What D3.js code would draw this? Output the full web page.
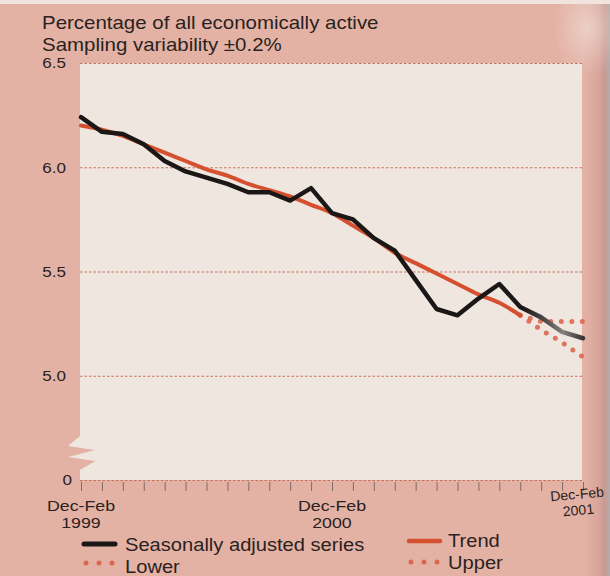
<!DOCTYPE html>
<html>
<head>
<meta charset="utf-8">
<script src="https://cdn.jsdelivr.net/npm/d3@7"></script>
<style>
  html, body { margin: 0; padding: 0; background: #e4b2a5; }
  svg { display: block; }
  text { font-family: "Liberation Sans", Arial, Helvetica, sans-serif; fill: #2a2220; }
</style>
</head>
<body>
<svg id="chart" width="610" height="576"></svg>
<script>
// Rolling three-month periods, Dec-Feb 1999 to Dec-Feb 2001
const periods = [
  "Dec-Feb 1999", "Jan-Mar 1999", "Feb-Apr 1999", "Mar-May 1999", "Apr-Jun 1999",
  "May-Jul 1999", "Jun-Aug 1999", "Jul-Sep 1999", "Aug-Oct 1999", "Sep-Nov 1999",
  "Oct-Dec 1999", "Nov-Jan 2000", "Dec-Feb 2000", "Jan-Mar 2000", "Feb-Apr 2000",
  "Mar-May 2000", "Apr-Jun 2000", "May-Jul 2000", "Jun-Aug 2000", "Jul-Sep 2000",
  "Aug-Oct 2000", "Sep-Nov 2000", "Oct-Dec 2000", "Nov-Jan 2001", "Dec-Feb 2001"
];

// Unemployment rate, % of all economically active
const seasonallyAdjusted = [
  6.24, 6.17, 6.16, 6.11, 6.03, 5.98, 5.95, 5.92, 5.88, 5.88, 5.84, 5.90, 5.78,
  5.75, 5.66, 5.60, 5.46, 5.32, 5.29, 5.37, 5.44, 5.33, 5.28, 5.21, 5.18
];
const trend = [
  6.20, 6.18, 6.15, 6.11, 6.07, 6.03, 5.99, 5.96, 5.92, 5.89, 5.86, 5.82, 5.78,
  5.72, 5.66, 5.59, 5.54, 5.49, 5.44, 5.39, 5.35, 5.29, null, null, null
];
// Projected trend band
const upper = [
  null, null, null, null, null, null, null, null, null, null, null, null, null,
  null, null, null, null, null, null, null, null, 5.29, 5.26, 5.26, 5.26
];
const lower = [
  null, null, null, null, null, null, null, null, null, null, null, null, null,
  null, null, null, null, null, null, null, null, 5.29, 5.22, 5.16, 5.09
];

// Axis ticks: the bottom of the broken axis is labelled 0
const yTickValues = [4.5, 5.0, 5.5, 6.0, 6.5];
const yTickLabels = ["0", "5.0", "5.5", "6.0", "6.5"];
const xTickLabels = [
  { period: "Dec-Feb 1999", lines: ["Dec-Feb", "1999"] },
  { period: "Dec-Feb 2000", lines: ["Dec-Feb", "2000"] },
  { period: "Dec-Feb 2001", lines: ["Dec-Feb", "2001"] }
];
const titleLines = ["Percentage of all economically active", "Sampling variability \u00b10.2%"];
const legendItems = [
  { label: "Seasonally adjusted series", kind: "solid", color: "#1b1716" },
  { label: "Trend", kind: "solid", color: "#d4502e" },
  { label: "Lower", kind: "dots", color: "#dc6750" },
  { label: "Upper", kind: "dots", color: "#dc6750" }
];

const W = 610, H = 576;
const panel = { left: 80, right: 582, top: 63, bottom: 480 };
const PINK = "#e4b2a5", PANEL = "#f0e6e0", GRID = "#c8705e";

const svg = d3.select("#chart");
const defs = svg.append("defs");

// Slight horizontal widening of all text
function widen(sel, k = 1.1) {
  sel.each(function () {
    const w = this.getComputedTextLength();
    this.setAttribute("textLength", (w * k).toFixed(1));
    this.setAttribute("lengthAdjust", "spacingAndGlyphs");
  });
}

// Page background with darker gutter on the right
svg.append("rect").attr("width", W).attr("height", H).attr("fill", PINK);
const gutter = defs.append("linearGradient").attr("id", "gutter")
  .attr("x1", 0).attr("x2", 1).attr("y1", 0).attr("y2", 0);
gutter.append("stop").attr("offset", 0).attr("stop-color", "#e4b2a5");
gutter.append("stop").attr("offset", 0.55).attr("stop-color", "#d9a69c");
gutter.append("stop").attr("offset", 0.8).attr("stop-color", "#c99a93");
gutter.append("stop").attr("offset", 1).attr("stop-color", "#b4aaa8");
svg.append("rect").attr("x", 583).attr("y", 0).attr("width", 27).attr("height", H)
  .attr("fill", "url(#gutter)");
const glare = defs.append("radialGradient").attr("id", "glare")
  .attr("cx", 0.5).attr("cy", 0.5).attr("r", 0.5);
glare.append("stop").attr("offset", 0).attr("stop-color", "#efdcd5").attr("stop-opacity", 0.7);
glare.append("stop").attr("offset", 1).attr("stop-color", "#efdcd5").attr("stop-opacity", 0);
svg.append("ellipse").attr("cx", 588).attr("cy", 28).attr("rx", 34).attr("ry", 48)
  .attr("fill", "url(#glare)");
svg.append("rect").attr("width", W).attr("height", 4).attr("fill", "#f1e4de");

// Plot panel
svg.append("rect")
  .attr("x", panel.left).attr("y", panel.top)
  .attr("width", panel.right - panel.left).attr("height", panel.bottom - panel.top)
  .attr("fill", PANEL);

// Scales
const x = d3.scalePoint().domain(periods).range([81, 583]);
const y = d3.scaleLinear().domain([4.5, 6.5]).range([panel.bottom, panel.top]);

// Axis break on the left edge
const zig = [[80, 436], [68, 446], [96, 450], [68, 457], [96, 461], [80, 470]];
svg.append("path").attr("fill", PINK)
  .attr("d", d3.line()(zig.concat([[60, 470], [60, 436]])) + "Z");
svg.append("path").attr("fill", PANEL)
  .attr("d", d3.line()(zig.concat([[100, 470], [100, 436]])) + "Z");

// Dotted gridlines
const grid = svg.append("g")
  .attr("transform", `translate(${panel.left},0)`)
  .call(d3.axisRight(y).tickValues(yTickValues).tickSize(panel.right - panel.left).tickFormat(""));
grid.select(".domain").remove();
grid.selectAll("line").attr("stroke", GRID).attr("stroke-width", 1)
  .attr("stroke-dasharray", "2.5,2");

// Y labels
const yAxis = svg.append("g")
  .attr("transform", `translate(${panel.left},0)`)
  .call(d3.axisLeft(y).tickValues(yTickValues).tickSize(0).tickPadding(14)
    .tickFormat((d, i) => yTickLabels[i]));
yAxis.select(".domain").remove();
yAxis.selectAll("text")
  .attr("font-size", 15.5)
  .attr("font-family", null)
  .attr("fill", "#2a2220")
  .attr("dx", d => d === 4.5 ? 6 : 0)
  .call(widen);

// X ticks
const xAxis = svg.append("g")
  .attr("transform", `translate(0,${panel.bottom + 2})`)
  .call(d3.axisBottom(x).tickSize(9).tickFormat(""));
xAxis.select(".domain").remove();
xAxis.selectAll("line").attr("stroke", "#7d6c68").attr("stroke-width", 1);

// X labels
xTickLabels.forEach((t, k) => {
  const last = k === xTickLabels.length - 1;
  const g = svg.append("g")
    .attr("transform", last
      ? `translate(${x(t.period) - 5},0) rotate(-5 0 505)`
      : `translate(${x(t.period)},0)`);
  t.lines.forEach((line, j) => {
    g.append("text")
      .attr("x", 0)
      .attr("y", last ? 499 + j * 16 : 511 + j * 17)
      .attr("text-anchor", "middle")
      .attr("font-size", last ? 14 : 15.2)
      .text(line)
      .call(widen, last ? 1.0 : 1.17);
  });
});

// Series
const lineGen = d3.line()
  .defined(d => d != null)
  .x((d, i) => x(periods[i]))
  .y(d => y(d));

// Band projections as round dots
[upper, lower].forEach(series => {
  svg.append("path")
    .datum(series)
    .attr("fill", "none")
    .attr("stroke", "#dc6750")
    .attr("stroke-opacity", 0.9)
    .attr("stroke-width", 5)
    .attr("stroke-linecap", "round")
    .attr("stroke-dasharray", "0,10.5")
    .attr("d", lineGen);
});

svg.append("path")
  .datum(trend)
  .attr("fill", "none")
  .attr("stroke", "#d4502e")
  .attr("stroke-width", 4)
  .attr("stroke-linecap", "round")
  .attr("d", lineGen.curve(d3.curveMonotoneX));

// The final stretch of the seasonally adjusted line fades to grey
const fade = defs.append("linearGradient").attr("id", "saFade")
  .attr("gradientUnits", "userSpaceOnUse")
  .attr("x1", x(periods[0])).attr("x2", x(periods[periods.length - 1]))
  .attr("y1", 0).attr("y2", 0);
[[0, "#1b1716"], [0.88, "#1b1716"], [0.92, "#4a4545"], [0.96, "#858080"], [1, "#3a3535"]]
  .forEach(([o, c]) => fade.append("stop").attr("offset", o).attr("stop-color", c));

svg.append("path")
  .datum(seasonallyAdjusted)
  .attr("fill", "none")
  .attr("stroke", "url(#saFade)")
  .attr("stroke-width", 4.5)
  .attr("stroke-linejoin", "round")
  .attr("stroke-linecap", "round")
  .attr("d", lineGen.curve(d3.curveLinear));

// Title
titleLines.forEach((line, i) => {
  svg.append("text")
    .attr("x", 42).attr("y", 29 + i * 21.5)
    .attr("font-size", 18.6)
    .text(line)
    .call(widen);
});

// Legend
const legendPos = [
  { sx: 84, sy: 544, tx: 125, ty: 551 },
  { sx: 409, sy: 541, tx: 448, ty: 547 },
  { sx: 86, sy: 563, tx: 125, ty: 573 },
  { sx: 411, sy: 562, tx: 448, ty: 569 }
];
legendItems.forEach((item, i) => {
  const p = legendPos[i];
  const g = svg.append("g");
  if (item.kind === "solid") {
    g.append("line")
      .attr("x1", p.sx).attr("x2", p.sx + 31)
      .attr("y1", p.sy).attr("y2", p.sy)
      .attr("stroke", item.color)
      .attr("stroke-width", i === 0 ? 5 : 4.5)
      .attr("stroke-linecap", "round");
  } else {
    g.selectAll("circle").data([0, 1, 2]).join("circle")
      .attr("cx", d => p.sx + d * 13)
      .attr("cy", p.sy)
      .attr("r", 2.5)
      .attr("fill", item.color);
  }
  g.append("text")
    .attr("x", p.tx).attr("y", p.ty)
    .attr("font-size", 18.3)
    .text(item.label)
    .call(widen);
});
</script>
</body>
</html>
